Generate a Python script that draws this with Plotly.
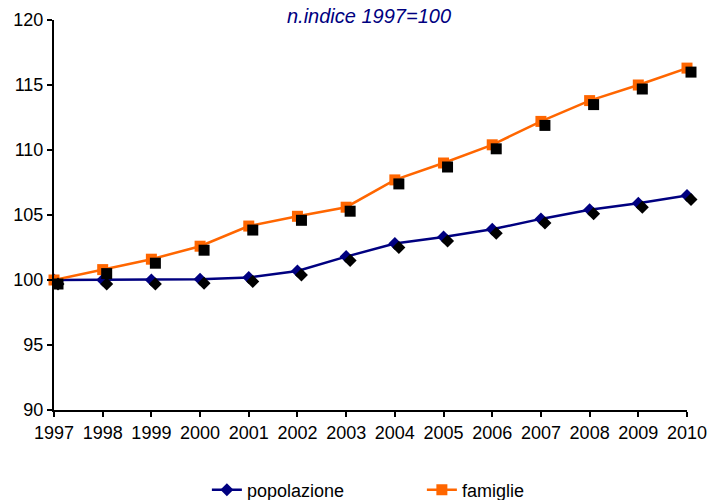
import plotly.graph_objects as go

years = [1997, 1998, 1999, 2000, 2001, 2002, 2003, 2004, 2005, 2006, 2007, 2008, 2009, 2010]
popolazione = [100.0, 100.0, 100.0, 100.05, 100.2, 100.7, 101.8, 102.8, 103.3, 103.9, 104.7, 105.4, 105.9, 106.5]
famiglie = [100.0, 100.8, 101.6, 102.6, 104.15, 104.9, 105.6, 107.7, 109.0, 110.4, 112.2, 113.8, 115.0, 116.3]
title_text = "n.indice 1997=100"

W, H = 709, 500
ml, mr, mt, mb = 54, 18, 20, 86
pw = W - ml - mr
ph = H - mt - mb
dx = 4 / pw
dy = 4 / ph

font = "Liberation Sans"
fig = go.Figure()

# shadows
fig.add_trace(go.Scatter(x=years, y=popolazione, mode="markers", xaxis="x2", yaxis="y2",
                         marker=dict(symbol="diamond", size=10, color="black"),
                         showlegend=False, hoverinfo="skip", cliponaxis=False))
fig.add_trace(go.Scatter(x=years, y=famiglie, mode="markers", xaxis="x2", yaxis="y2",
                         marker=dict(symbol="square", size=11, color="black"),
                         showlegend=False, hoverinfo="skip", cliponaxis=False))

fig.add_trace(go.Scatter(x=years, y=popolazione, name="popolazione", mode="lines+markers",
                         line=dict(color="#000080", width=2.5),
                         marker=dict(symbol="diamond", size=10, color="#000080"),
                         cliponaxis=False))
fig.add_trace(go.Scatter(x=years, y=famiglie, name="famiglie", mode="lines+markers",
                         line=dict(color="#FF6600", width=2.5),
                         marker=dict(symbol="square", size=11, color="#FF6600"),
                         cliponaxis=False))

axis_common = dict(showgrid=False, zeroline=False, showline=True, linecolor="black", linewidth=2,
                   ticks="outside", ticklen=5, tickwidth=1.5, tickcolor="black", automargin=False,
                   tickfont=dict(family=font, size=18, color="black"))

fig.update_layout(
    width=W, height=H,
    margin=dict(l=ml, r=mr, t=mt, b=mb, autoexpand=False),
    paper_bgcolor="white", plot_bgcolor="rgba(0,0,0,0)",
    font=dict(family=font, size=18, color="black"),
    xaxis=dict(range=[1997, 2010], tickmode="array", tickvals=years, domain=[0, 1 - dx], **axis_common),
    yaxis=dict(range=[90, 120], tickmode="linear", tick0=90, dtick=5, domain=[dy, 1], **axis_common),
    xaxis2=dict(range=[1997, 2010], domain=[dx, 1], visible=False, anchor="y2"),
    yaxis2=dict(range=[90, 120], domain=[0, 1 - dy], visible=False, anchor="x2"),
    legend=dict(orientation="h", x=0.24, xanchor="left", y=-0.193, yanchor="middle",
                entrywidth=170, font=dict(family=font, size=18, color="black"),
                bgcolor="rgba(0,0,0,0)"),
    annotations=[dict(text=f"<i>{title_text}</i>", x=0.495, xref="paper", y=1 + 4 / ph, yref="paper",
                      yanchor="middle", showarrow=False,
                      font=dict(family=font, size=20, color="#000080"))],
    hovermode=False,
)

fig.write_html("out.html", config={"displayModeBar": False},
               post_script="document.body.style.margin='0';document.body.style.overflow='hidden';")
